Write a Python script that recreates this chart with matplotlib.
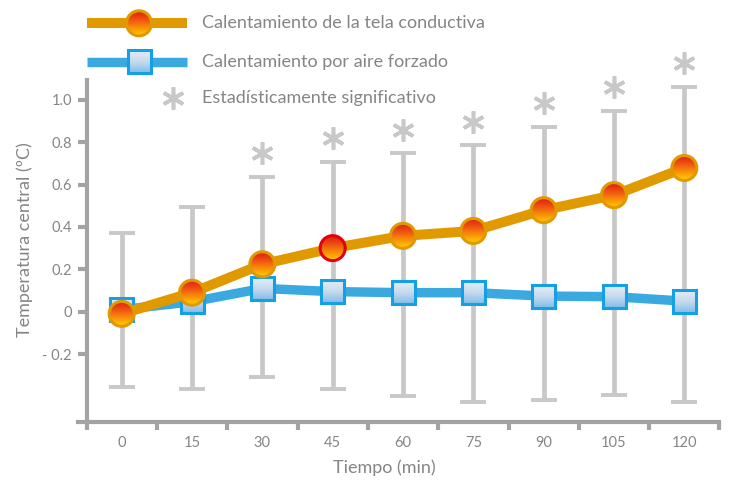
import numpy as np
import matplotlib.pyplot as plt
from matplotlib.colors import LinearSegmentedColormap
from matplotlib.markers import MarkerStyle
from matplotlib.patches import Ellipse, Rectangle

plt.rcParams['font.family'] = ['Lato', 'DejaVu Sans']

# data
tiempo = ['0', '15', '30', '45', '60', '75', '90', '105', '120']
tela = [-0.01, 0.09, 0.224, 0.30, 0.358, 0.381, 0.479, 0.55, 0.678]
aire = [0.01, 0.047, 0.11, 0.095, 0.09, 0.09, 0.074, 0.071, 0.05]
err_alto = [0.373, 0.495, 0.637, 0.708, 0.747, 0.785, 0.873, 0.948, 1.061]
err_bajo = [-0.355, -0.365, -0.307, -0.365, -0.397, -0.425, -0.415, -0.395, -0.425]
significativo = [False, False, True, True, True, True, True, True, True]
resaltado = [False, False, False, True, False, False, False, False, False]
y_ticks = [-0.2, 0, 0.2, 0.4, 0.6, 0.8, 1.0]
y_labels = ['- 0.2', '0', '0.2', '0.4', '0.6', '0.8', '1.0']

gris_txt = '#858585'
gris_eje = '#a3a3a3'
gris_err = '#c8c8c8'
naranja = '#e09a00'
azul = '#3aa9e0'
borde_azul = '#15a0e6'
cmap_circ = LinearSegmentedColormap.from_list('circ', ['#e01d0e', '#ee5212', '#f8900a', '#ffd000'])
cmap_cuad = LinearSegmentedColormap.from_list('cuad', ['#e6edf5', '#c6daee', '#80bde9'])

W, H = 732, 483
fig = plt.figure(figsize=(W / 100, H / 100), dpi=100)
ax = fig.add_axes([78 / W, 1 - 422 / H, (719.5 - 78) / W, (422 - 80) / H])
xlim = (-0.621, 8.5)
ylim = (-0.52, 1.093)
sx = (xlim[1] - xlim[0]) / (719.5 - 78)
sy = (ylim[1] - ylim[0]) / (422 - 80)


def marcador(a, x, y, rx, ry, cmap, edge, shape, z):
    if shape == 'o':
        p = Ellipse((x, y), 2 * rx, 2 * abs(ry))
    else:
        p = Rectangle((x - rx, y - abs(ry)), 2 * rx, 2 * abs(ry))
    p.set(facecolor='none', edgecolor=edge, linewidth=2.2, zorder=z + 0.1)
    a.add_patch(p)
    grad = np.linspace(0, 1, 64).reshape(-1, 1)
    im = a.imshow(grad, cmap=cmap, extent=(x - rx, x + rx, y - ry, y + ry), origin='upper',
                  aspect='auto', zorder=z, interpolation='bilinear')
    im.set_clip_path(p)


x = np.arange(len(tiempo))
lo = np.array(err_bajo)
hi = np.array(err_alto)
ax.errorbar(x, lo, yerr=[np.zeros(len(x)), hi - lo], fmt='none', ecolor=gris_err,
            elinewidth=3.4, capsize=9.4, capthick=2.8, zorder=1)

ax.plot(x, aire, color=azul, lw=6.8, zorder=2, solid_capstyle='butt')
for xi, yi in zip(x, aire):
    marcador(ax, xi, yi, 11.5 * sx, 11.5 * sy, cmap_cuad, borde_azul, 's', 3)

ax.plot(x, tela, color=naranja, lw=7.2, zorder=4, solid_capstyle='butt')
for xi, yi, r in zip(x, tela, resaltado):
    marcador(ax, xi, yi, 12.5 * sx, 12.5 * sy, cmap_circ, '#e3000f' if r else naranja, 'o', 5)

ast = MarkerStyle((6, 2, 0), capstyle='round')
xs = x[np.array(significativo)]
ys = hi[np.array(significativo)] + 23.5 * sy
ax.plot(xs, ys, linestyle='none', marker=ast, ms=16, mew=2.6, color=gris_err, clip_on=False)

ax.set_xlim(xlim)
ax.set_ylim(ylim)
for s in ['top', 'right']:
    ax.spines[s].set_visible(False)
ax.spines['left'].set_position(('data', -0.5))
for s in ['left', 'bottom']:
    ax.spines[s].set_color(gris_eje)
    ax.spines[s].set_linewidth(3)
ax.set_xticks(np.arange(-0.5, 9, 1))
ax.set_xticklabels([])
ax.set_xticks(x, minor=True)
ax.set_xticklabels(tiempo, minor=True)
ax.tick_params(axis='x', which='major', length=6, width=3, color=gris_eje, direction='out')
ax.tick_params(axis='x', which='minor', length=0, pad=10, labelsize=10.5, labelcolor=gris_txt)
ax.set_yticks(y_ticks)
ax.set_yticklabels(y_labels)
ax.tick_params(axis='y', length=6.5, width=3, color=gris_eje, pad=4, labelsize=10.5, labelcolor=gris_txt)

fig.text(25 / W, 1 - 240 / H, 'Temperatura central (ºC)', rotation=90, ha='center', va='center',
         fontsize=13, color=gris_txt)
fig.text(384 / W, 1 - 468 / H, 'Tiempo (min)', ha='center', va='center', fontsize=13, color=gris_txt)

# legend drawn in pixel coordinates
lg = fig.add_axes([0, 0, 1, 1])
lg.set_xlim(0, W)
lg.set_ylim(H, 0)
lg.axis('off')
lg.plot([87, 187], [23.3, 23.3], color=naranja, lw=7.2, solid_capstyle='butt', zorder=1)
marcador(lg, 139, 23.3, 12.5, -12.5, cmap_circ, naranja, 'o', 2)
lg.plot([87, 187], [61.7, 61.7], color=azul, lw=6.8, solid_capstyle='butt', zorder=1)
marcador(lg, 139, 61.7, 11.5, -11.5, cmap_cuad, borde_azul, 's', 2)
lg.plot([173], [98], linestyle='none', marker=ast, ms=16, mew=2.6, color=gris_err)
lg.set_xlim(0, W)
lg.set_ylim(H, 0)
for ty, t in zip([23.3, 61.7, 98], ['Calentamiento de la tela conductiva', 'Calentamiento por aire forzado',
                                    'Estadísticamente significativo']):
    lg.text(201.5, ty, t, ha='left', va='center', fontsize=13, color=gris_txt)

fig.savefig('out.png', dpi=100)
